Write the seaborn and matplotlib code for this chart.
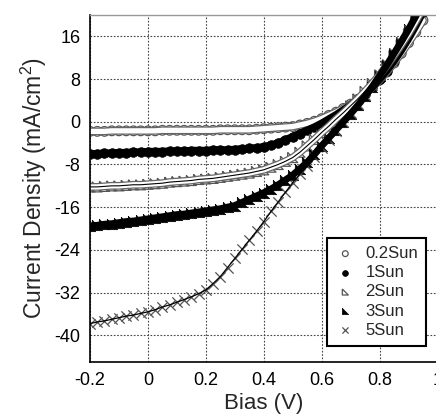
import numpy as np
import pandas as pd
import matplotlib
matplotlib.use("Agg")
import matplotlib.pyplot as plt
import seaborn as sns

bias = [-0.2, -0.175, -0.15, -0.125, -0.1, -0.075, -0.05, -0.025, 0.0, 0.025,
        0.05, 0.075, 0.1, 0.125, 0.15, 0.175, 0.2, 0.225, 0.25, 0.275,
        0.3, 0.325, 0.35, 0.375, 0.4, 0.425, 0.45, 0.475, 0.5, 0.525,
        0.55, 0.575, 0.6, 0.625, 0.65, 0.675, 0.7, 0.725, 0.75, 0.775,
        0.8, 0.825, 0.85, 0.875, 0.9, 0.925, 0.95]

sun_02 = [-1.8, -1.8, -1.8, -1.7, -1.7, -1.7, -1.7, -1.7, -1.7,
          -1.7, -1.6, -1.6, -1.6, -1.6, -1.6, -1.6, -1.6,
          -1.6, -1.5, -1.5, -1.5, -1.5, -1.5, -1.4, -1.3,
          -1.2, -1.1, -1.0, -0.9, -0.6, -0.3, 0.1, 0.6,
          1.2, 1.8, 2.5, 3.3, 4.2, 5.2, 6.4, 7.8,
          9.3, 11.0, 12.8, 14.8, 16.8, 19.0]
sun_1 = [-6.0, -6.0, -5.9, -5.9, -5.8, -5.8, -5.7, -5.7, -5.6,
         -5.6, -5.6, -5.5, -5.5, -5.5, -5.4, -5.4, -5.4,
         -5.3, -5.3, -5.3, -5.2, -5.1, -5.0, -4.9, -4.7,
         -4.4, -4.0, -3.4, -2.8, -2.2, -1.6, -1.0, -0.3,
         0.5, 1.3, 2.2, 3.1, 4.1, 5.2, 6.5, 8.0,
         9.6, 11.4, 13.4, 15.6, 18.0, 20.6]
sun_2 = [-12.2, -12.2, -12.1, -12.0, -12.0, -11.9, -11.8, -11.8, -11.7,
         -11.6, -11.5, -11.3, -11.2, -11.1, -11.0, -10.8, -10.7,
         -10.6, -10.4, -10.2, -10.0, -9.8, -9.6, -9.3, -9.0,
         -8.5, -8.0, -7.4, -6.7, -5.7, -4.5, -3.3, -2.0,
         -0.8, 0.5, 1.7, 3.0, 4.3, 5.7, 7.2, 8.8,
         10.5, 12.4, 14.4, 16.5, 18.8, 21.2]
sun_3 = [-19.5, -19.4, -19.2, -19.1, -18.9, -18.7, -18.6, -18.4, -18.2,
         -18.0, -17.8, -17.6, -17.4, -17.3, -17.1, -16.9, -16.7,
         -16.5, -16.3, -16.0, -15.7, -15.1, -14.5, -13.9, -13.3,
         -12.6, -11.8, -10.9, -10.0, -8.8, -7.6, -6.1, -4.5,
         -3.0, -1.5, 0.0, 1.5, 3.1, 4.8, 6.6, 8.6,
         10.6, 12.8, 15.0, 17.3, 19.8, 22.3]
sun_5 = [-37.8, -37.5, -37.3, -37.0, -36.7, -36.4, -36.2, -35.9, -35.6,
         -35.2, -34.7, -34.3, -33.8, -33.3, -32.8, -32.2, -31.5,
         -30.3, -29.0, -27.3, -25.6, -23.9, -22.2, -20.5, -18.7,
         -16.8, -15.0, -13.2, -11.4, -9.8, -8.3, -6.6, -5.0,
         -3.4, -1.8, -0.1, 1.6, 3.3, 5.0, 6.9, 8.8,
         10.8, 12.8, 15.0, 17.2, 19.6, 22.0]

series_names = ["0.2Sun", "1Sun", "2Sun", "3Sun", "5Sun"]
series_values = [sun_02, sun_1, sun_2, sun_3, sun_5]

x_ticks = [-0.2, 0.0, 0.2, 0.4, 0.6, 0.8, 1.0]
x_tick_labels = ["-0.2", "0", "0.2", "0.4", "0.6", "0.8", "1"]
y_ticks = [-40, -32, -24, -16, -8, 0, 8, 16]
y_tick_labels = ["-40", "-32", "-24", "-16", "-8", "0", "8", "16"]

sns.set_style("white")
plt.rcParams["font.family"] = ["Liberation Sans", "DejaVu Sans"]
plt.rcParams["mathtext.fontset"] = "custom"
plt.rcParams["mathtext.rm"] = "Liberation Sans"
plt.rcParams["mathtext.it"] = "Liberation Sans"

df = pd.DataFrame({
    "Bias": np.tile(bias, len(series_names)),
    "J": np.concatenate(series_values),
    "Series": np.repeat(series_names, len(bias)),
})

fig = plt.figure(figsize=(4.36, 4.19), dpi=100)
W, H = 436, 419
ax = fig.add_axes([90 / W, 1 - 362 / H, (437.5 - 90) / W, (362 - 15) / H])

rtri = [(-1, 1), (-1, -1), (1, -1), (-1, 1)]
styles = {
    "0.2Sun": dict(marker="o", s=48, facecolors="none", edgecolors="#555555", linewidths=0.9),
    "1Sun": dict(marker="o", s=48, color="black", edgecolors="black", linewidths=0.5),
    "2Sun": dict(marker=rtri, s=52, facecolors="none", edgecolors="#555555", linewidths=0.9),
    "3Sun": dict(marker=rtri, s=56, color="black", edgecolors="black", linewidths=0.5),
    "5Sun": dict(marker="x", s=55, color="#555555", linewidths=0.9),
}

# dense bands underneath the markers (the original markers overlap into bands)
band = {
    "0.2Sun": [("#666666", 5.6), ("white", 3.8)],
    "1Sun": [("black", 5.5)],
    "2Sun": [("#666666", 5.6), ("white", 3.8), ("black", 0.8)],
    "3Sun": [("black", 5.0)],
    "5Sun": [("black", 0.9)],
}
for name in series_names:
    sub = df[df["Series"] == name]
    for col, lw in band[name]:
        sns.lineplot(data=sub, x="Bias", y="J", ax=ax, color=col, lw=lw,
                     estimator=None, sort=False, legend=False)

for name in series_names:
    sub = df[df["Series"] == name]
    sns.scatterplot(data=sub, x="Bias", y="J", ax=ax, label=name, **styles[name])

ax.set_xlim(-0.2, 1.0)
ax.set_ylim(-45, 20)
ax.set_xticks(x_ticks)
ax.set_xticklabels(x_tick_labels, fontsize=13)
ax.set_yticks(y_ticks)
ax.set_yticklabels(y_tick_labels, fontsize=13)
ax.tick_params(axis="both", direction="in", length=3, width=0.8, pad=7, colors="black")
ax.set_xlabel("Bias (V)", fontsize=16, labelpad=3)
ax.set_ylabel("Current Density (mA/cm$^2$)", fontsize=16.5, labelpad=4)

ax.grid(True, linestyle=(0, (1.5, 1.5)), color="#444444", linewidth=0.8)
ax.set_axisbelow(True)
for side in ["left", "bottom"]:
    ax.spines[side].set_color("black")
    ax.spines[side].set_linewidth(1.2)
ax.spines["top"].set_color("#999999")
ax.spines["top"].set_linewidth(1.0)
ax.spines["right"].set_visible(False)

leg = ax.legend(loc="lower right", bbox_to_anchor=(0.968, 0.046), borderaxespad=0,
                fontsize=12, frameon=True, fancybox=False, handletextpad=0.6,
                labelspacing=0.25, handlelength=1.2, borderpad=0.5, markerscale=0.6)
leg.get_frame().set_edgecolor("black")
leg.get_frame().set_linewidth(1.5)
leg.get_frame().set_alpha(1)

fig.savefig("out.png", dpi=100)
